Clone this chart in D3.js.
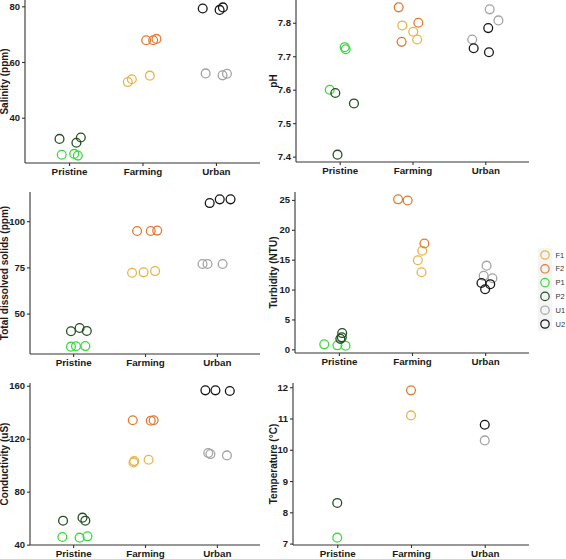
<!DOCTYPE html>
<html><head><meta charset="utf-8">
<script src="https://cdn.jsdelivr.net/npm/d3@7"></script>
<style>
body{margin:0;background:#fff;}
text{font-family:"Liberation Sans",Arial,sans-serif;}
</style></head>
<body><svg id="c" width="566" height="559"></svg>
<script>
const categories = ["Pristine","Farming","Urban"];
const sites = ["F1","F2","P1","P2","U1","U2"];
const siteCategory = {F1:"Farming",F2:"Farming",P1:"Pristine",P2:"Pristine",U1:"Urban",U2:"Urban"};
const siteColors = {F1:"#E6B547",F2:"#E07B33",P1:"#3AD93A",P2:"#244F24",U1:"#A3A3A3",U2:"#151515"};

// values per site (3 replicates)
const salinity = {P1:[26.7,27.0,26.4],P2:[32.4,31.0,32.9],F1:[52.8,53.8,55.1],F2:[67.8,67.8,68.3],U1:[55.9,55.2,55.8],U2:[79.2,78.7,79.6]};
const pH = {P1:[7.60,7.727,7.721],P2:[7.59,7.559,7.406],F1:[7.792,7.773,7.750],F2:[7.846,7.800,7.743],U1:[7.750,7.840,7.807],U2:[7.724,7.784,7.712]};
const tds = {P1:[32.1,32.3,32.4],P2:[40.4,42.2,40.6],F1:[72.1,72.3,73.0],F2:[94.7,94.7,94.9],U1:[76.8,76.8,76.8],U2:[109.8,111.8,111.8]};
const turbidity = {P1:[0.83,0.67,0.61],P2:[2.72,1.75,2.0],F1:[16.5,14.9,12.9],F2:[25.1,24.9,17.7],U1:[14.0,12.3,11.9],U2:[11.1,10.9,10.05]};
const conductivity = {P1:[45.8,45.3,46.3],P2:[58.1,60.4,58.1],F1:[102.1,103.1,104.1],F2:[133.9,133.6,133.9],U1:[109.2,108.4,107.4],U2:[156.5,156.5,156.0]};
const temperature = {P1:[7.19],P2:[8.3],F1:[11.1],F2:[11.9],U1:[10.3],U2:[10.8]};

// horizontal jitter (fraction of category step)
const jitterSal = {P1:[-0.10,0.07,0.12],P2:[-0.13,0.10,0.16],F1:[-0.20,-0.145,0.10],F2:[0.05,0.145,0.19],U1:[-0.14,0.09,0.15],U2:[-0.18,0.05,0.095]};
const jitterPH = {P1:[-0.137,0.068,0.082],P2:[-0.06,0.196,-0.03],F1:[-0.14,0.01,0.064],F2:[-0.19,0.08,-0.15],U1:[-0.18,0.06,0.18],U2:[-0.16,0.04,0.05]};
const jitterTDS = {P1:[-0.03,0.04,0.17],P2:[-0.03,0.09,0.19],F1:[-0.18,-0.02,0.14],F2:[-0.11,0.08,0.17],U1:[-0.20,-0.13,0.08],U2:[-0.10,0.04,0.19]};
const jitterTurb = {P1:[-0.20,-0.02,0.09],P2:[0.045,0.02,0.04],F1:[0.14,0.08,0.13],F2:[-0.19,-0.06,0.17],U1:[0.02,-0.02,0.10],U2:[-0.05,0.07,0.0]};
const jitterCond = {P1:[-0.15,0.09,0.20],P2:[-0.14,0.13,0.17],F1:[-0.16,-0.15,0.05],F2:[-0.17,0.08,0.12],U1:[-0.12,-0.09,0.14],U2:[-0.16,-0.02,0.18]};
const jitterTemp = {P1:[0],P2:[0],F1:[0],F2:[0],U1:[0],U2:[0]};

const salTicks=[40,60,80], phTicks=[7.4,7.5,7.6,7.7,7.8], tdsTicks=[50,75,100],
      turbTicks=[0,5,10,15,20,25], condTicks=[40,80,120,160], tempTicks=[7,8,9,10,11,12];

const panels = [
 {title:"Salinity (ppm)", vals:salinity, jit:jitterSal, ticks:salTicks, fmt:d3.format("d"), x0:25, x1:260, y0:0, y1:163, tx:8},
 {title:"pH", vals:pH, jit:jitterPH, ticks:phTicks, fmt:d3.format(".1f"), x0:296, x1:529, y0:0, y1:162, tx:277},
 {title:"Total dissolved solids (ppm)", vals:tds, jit:jitterTDS, ticks:tdsTicks, fmt:d3.format("d"), x0:30, x1:260, y0:192, y1:354, tx:8},
 {title:"Turbidity (NTU)", vals:turbidity, jit:jitterTurb, ticks:turbTicks, fmt:d3.format("d"), x0:295, x1:529, y0:192, y1:353, tx:277},
 {title:"Conductivity (uS)", vals:conductivity, jit:jitterCond, ticks:condTicks, fmt:d3.format("d"), x0:30, x1:260, y0:383, y1:545, tx:8},
 {title:"Temperature (°C)", vals:temperature, jit:jitterTemp, ticks:tempTicks, fmt:d3.format("d"), x0:293, x1:529, y0:383, y1:545, tx:277}
];

const svg = d3.select("#c");
const axisCol = "#333333";

panels.forEach(p=>{
  const all = sites.flatMap(s=>p.vals[s]);
  const [mn,mx] = d3.extent(all);
  const pad = (mx-mn)*0.05;
  const y = d3.scaleLinear().domain([mn-pad,mx+pad]).range([p.y1,p.y0]);
  const x = d3.scalePoint().domain(categories).range([p.x0,p.x1]).padding(0.6);
  const g = svg.append("g");

  const ya = g.append("g").attr("transform",`translate(${p.x0},0)`)
    .call(d3.axisLeft(y).tickValues(p.ticks).tickFormat(p.fmt).tickSize(3).tickPadding(2));
  ya.select(".domain").attr("stroke",axisCol).attr("stroke-width",1.1).attr("d",`M0,${p.y0}V${p.y1}`);
  ya.selectAll(".tick line").attr("stroke",axisCol).attr("stroke-width",1.1);
  ya.selectAll(".tick text").attr("fill","#1a1a1a").attr("font-size",9.5).attr("font-weight","bold");

  const xa = g.append("g").attr("transform",`translate(0,${p.y1})`)
    .call(d3.axisBottom(x).tickSize(3).tickPadding(2));
  xa.select(".domain").attr("stroke",axisCol).attr("stroke-width",1.1).attr("d",`M${p.x0},0H${p.x1}`);
  xa.selectAll(".tick line").attr("stroke",axisCol).attr("stroke-width",1.1);
  xa.selectAll(".tick text").attr("fill","#1a1a1a").attr("font-size",9.8).attr("font-weight","bold");

  g.append("text").attr("transform",`translate(${p.tx},${(p.y0+p.y1)/2}) rotate(-90)`)
    .attr("text-anchor","middle").attr("font-size",10).attr("font-weight","bold").attr("fill","#1a1a1a")
    .text(p.title);

  const pts = sites.flatMap(s=>p.vals[s].map((v,i)=>({s,v,j:p.jit[s][i]})));
  g.selectAll("circle.pt").data(pts).join("circle")
    .attr("cx",d=>x(siteCategory[d.s])+d.j*x.step())
    .attr("cy",d=>y(d.v))
    .attr("r",4.4)
    .attr("fill","none")
    .attr("stroke",d=>siteColors[d.s])
    .attr("stroke-width",1.3);
});

const lg = svg.append("g");
const ly = d3.scalePoint().domain(sites).range([255,324]);
sites.forEach(s=>{
  lg.append("rect").attr("x",538).attr("y",ly(s)-6.9).attr("width",14).attr("height",13.8).attr("fill","#F4F4F4");
  lg.append("circle").attr("cx",545).attr("cy",ly(s)).attr("r",4.2).attr("fill","none")
    .attr("stroke",siteColors[s]).attr("stroke-width",1.2);
  lg.append("text").attr("x",555.5).attr("y",ly(s)).attr("dy","0.35em").attr("font-size",7.5)
    .attr("fill","#333").text(s);
});
</script></body></html>
